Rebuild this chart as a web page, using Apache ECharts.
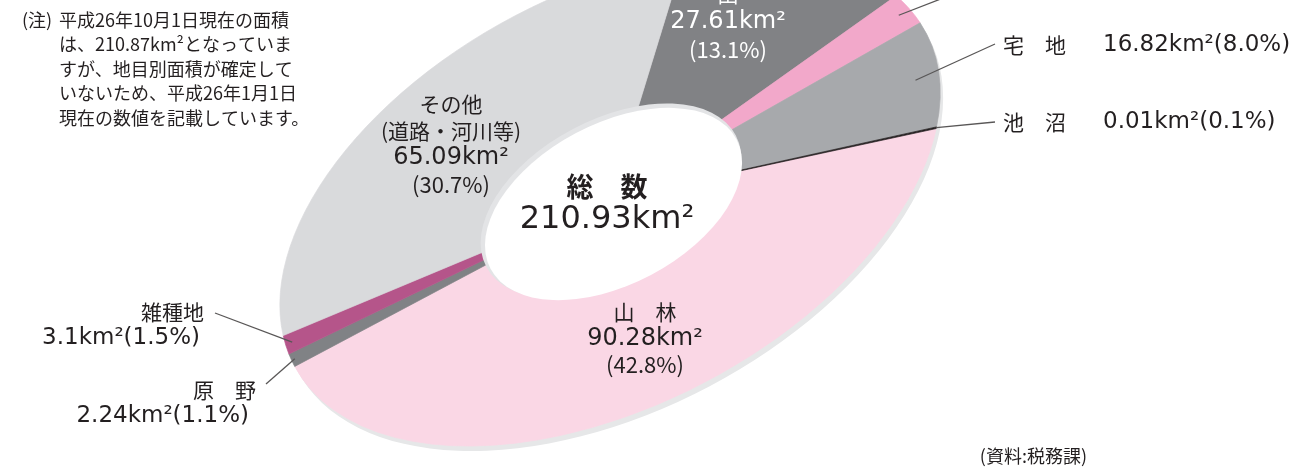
<!DOCTYPE html>
<html>
<head>
  <meta charset="utf-8">
</head>
<body style="margin: 0; background: #fff">
  <div id="container" style="width: 1294px; height: 468px"></div>
  <script src="https://cdn.jsdelivr.net/npm/echarts@6/dist/echarts.min.js"></script>
  <script type="text/javascript">
    // 地目別面積 (km2)
    var names = ['田', '畑', '宅地', '池沼', '山林', '原野', '雑種地', 'その他'];
    var areas = [27.61, 5.78, 16.82, 0.01, 90.28, 2.24, 3.1, 65.09];
    var shares = ['13.1%', '2.7%', '8.0%', '0.1%', '42.8%', '1.1%', '1.5%', '30.7%'];
    var labelNames = [['田'], ['畑'], ['宅　地'], ['池　沼'], ['山　林'], ['原　野'], ['雑種地'], ['その他', '(道路・河川等)']];
    var totalArea = '210.93';
    var noteLines = [
      '平成26年10月1日現在の面積',
      'は、210.87km²となっていま',
      'すが、地目別面積が確定して',
      'いないため、平成26年1月1日',
      '現在の数値を記載しています。'
    ];

    var sliceColors = ['#818285', '#f2a8ca', '#a7a9ac', '#231f20', '#fad7e5', '#808285', '#b5558a', '#d9dadc'];

    // 楕円ドーナツの形 (円を縦に潰して回転)
    var CX = 610, CY = 199, R = 357, K = 0.578, ROT = 27.8 * Math.PI / 180;
    var START = -60.1 * Math.PI / 180;
    var MIN_ANG = 0.4 * Math.PI / 180;
    var FONT_JP = '"Noto Sans CJK JP"';
    var FONT_NUM = '"DejaVu Sans", "Noto Sans CJK JP"';
    var TXT = '#231f20';
    var LEAD = '#595757';

    // ラベル配置 (内側: center / 外側: leader line + text)
    var labelLayout = [
      { inside: true, x: 728, y: -6, lh: 28, color: '#fff' },
      { inside: false, r: 0.965, end: [1000, -24], x: 1003, y: -30, side: 'right' },
      { inside: false, r: 0.93, end: [995, 44], x: 1003, y: 45, side: 'right' },
      { inside: false, r: 1.0, end: [995, 122], x: 1003, y: 122, side: 'right' },
      { inside: true, x: 645, y: 312, lh: 26.5, color: TXT },
      { inside: false, r: 0.99, end: [266, 384], x: 256, y: 390, vx: 249, side: 'left' },
      { inside: false, r: 0.98, end: [215, 313], x: 204, y: 312, vx: 200, side: 'left' },
      { inside: true, x: 451, y: 104, lh: 27, color: TXT }
    ];

    var sum = 0;
    var cum = [];
    for (var i = 0; i < areas.length; i++) {
      cum.push(sum);
      sum += areas[i];
    }

    function toScreen(ang, rr) {
      var u = rr * Math.cos(ang);
      var v = rr * Math.sin(ang) * K;
      return [CX + u * Math.cos(ROT) + v * Math.sin(ROT), CY - u * Math.sin(ROT) + v * Math.cos(ROT)];
    }

    function txt(x, y, s, font, align, color) {
      return {
        type: 'text',
        z2: 100,
        x: x,
        y: y,
        style: {
          text: s,
          font: font,
          fill: color || TXT,
          align: align,
          verticalAlign: 'middle',
          textAlign: align,
          textVerticalAlign: 'middle'
        }
      };
    }

    var dom = document.getElementById('container');
    var myChart = echarts.init(dom, null, { renderer: 'canvas' });

    var option = {
      animation: false,
      graphic: [
        // 外周の影
        {
          type: 'circle', z: 1, silent: true,
          shape: { cx: 0, cy: 0, r: R },
          x: CX + 3, y: CY + 5, scaleY: K, rotation: ROT,
          style: { fill: '#e6e7e8' }
        },
        // 中央の穴
        {
          type: 'circle', z: 5, silent: true,
          shape: { cx: 0, cy: 0, r: 141 },
          x: CX + 1, y: CY + 2, scaleY: K, rotation: ROT,
          style: { fill: '#e3e4e6' }
        },
        {
          type: 'circle', z: 6, silent: true,
          shape: { cx: 0, cy: 0, r: 139 },
          x: CX + 3.5, y: CY + 5, scaleY: K, rotation: ROT,
          style: { fill: '#ffffff' }
        },
        {
          type: 'text', z: 7, x: 607, y: 187,
          style: { text: '総　数', font: 'bold 27px ' + FONT_JP, fill: TXT, align: 'center', verticalAlign: 'middle', textAlign: 'center', textVerticalAlign: 'middle' }
        },
        {
          type: 'text', z: 7, x: 607, y: 220,
          style: { text: totalArea + 'km²', font: '32px ' + FONT_NUM, fill: TXT, align: 'center', verticalAlign: 'middle', textAlign: 'center', textVerticalAlign: 'middle' }
        },
        {
          type: 'text', z: 7, x: 22, y: 20,
          style: { text: '(注)', font: '18px ' + FONT_JP, fill: TXT, align: 'left', verticalAlign: 'middle', textAlign: 'left', textVerticalAlign: 'middle' }
        }
      ].concat(noteLines.map(function (s, j) {
        return {
          type: 'text', z: 7, x: 59, y: 20 + j * 24.5,
          style: { text: s, font: '18px ' + FONT_JP, fill: TXT, align: 'left', verticalAlign: 'middle', textAlign: 'left', textVerticalAlign: 'middle' }
        };
      })).concat([
        {
          type: 'text', z: 7, x: 1087, y: 456,
          style: { text: '(資料:税務課)', font: '18px ' + FONT_JP, fill: TXT, align: 'right', verticalAlign: 'middle', textAlign: 'right', textVerticalAlign: 'middle' }
        }
      ]),
      series: [
        {
          type: 'custom',
          coordinateSystem: 'none',
          silent: true,
          z: 2,
          data: areas.map(function (v, i) {
            return { name: names[i], value: v };
          }),
          renderItem: function (params, api) {
            var i = params.dataIndex;
            var a0 = START + cum[i] / sum * Math.PI * 2;
            var a1 = a0 + api.value(0) / sum * Math.PI * 2;
            var mid = (a0 + a1) / 2;
            var isTiny = a1 - a0 < MIN_ANG;
            if (isTiny) {
              a0 = mid - MIN_ANG / 2;
              a1 = mid + MIN_ANG / 2;
            }
            var children = [{
              type: 'sector',
              z2: isTiny ? 10 : 0,
              shape: { cx: 0, cy: 0, r: R, r0: 0, startAngle: a0, endAngle: a1, clockwise: true },
              x: CX, y: CY, scaleY: K, rotation: ROT,
              style: { fill: sliceColors[i], stroke: sliceColors[i], lineWidth: 0.6, strokeNoScale: true }
            }];

            var lay = labelLayout[i];
            var nm = labelNames[i];
            var valText = areas[i] + 'km²';
            var shText = '(' + shares[i] + ')';
            if (lay.inside) {
              var yy = lay.y;
              nm.forEach(function (s) {
                children.push(txt(lay.x, yy, s, '21px ' + FONT_JP, 'center', lay.color));
                yy += lay.lh;
              });
              children.push(txt(lay.x, yy, valText, '24px ' + FONT_NUM, 'center', lay.color));
              yy += lay.lh;
              children.push(txt(lay.x, yy, shText, '22px ' + FONT_JP, 'center', lay.color));
            } else {
              var p = toScreen(mid, R * lay.r);
              children.push({
                type: 'line', z2: 50,
                shape: { x1: p[0], y1: p[1], x2: lay.end[0], y2: lay.end[1] },
                style: { stroke: LEAD, lineWidth: 1.3 }
              });
              if (lay.side === 'right') {
                children.push(txt(lay.x, lay.y, nm[0], '21px ' + FONT_JP, 'left'));
                children.push(txt(lay.x + 100, lay.y, valText + shText, '23px ' + FONT_NUM, 'left'));
              } else {
                children.push(txt(lay.x, lay.y, nm[0], '21px ' + FONT_JP, 'right'));
                children.push(txt(lay.vx, lay.y + 26, valText + shText, '23px ' + FONT_NUM, 'right'));
              }
            }
            return { type: 'group', children: children };
          }
        }
      ]
    };

    myChart.setOption(option);
  </script>
</body>
</html>
